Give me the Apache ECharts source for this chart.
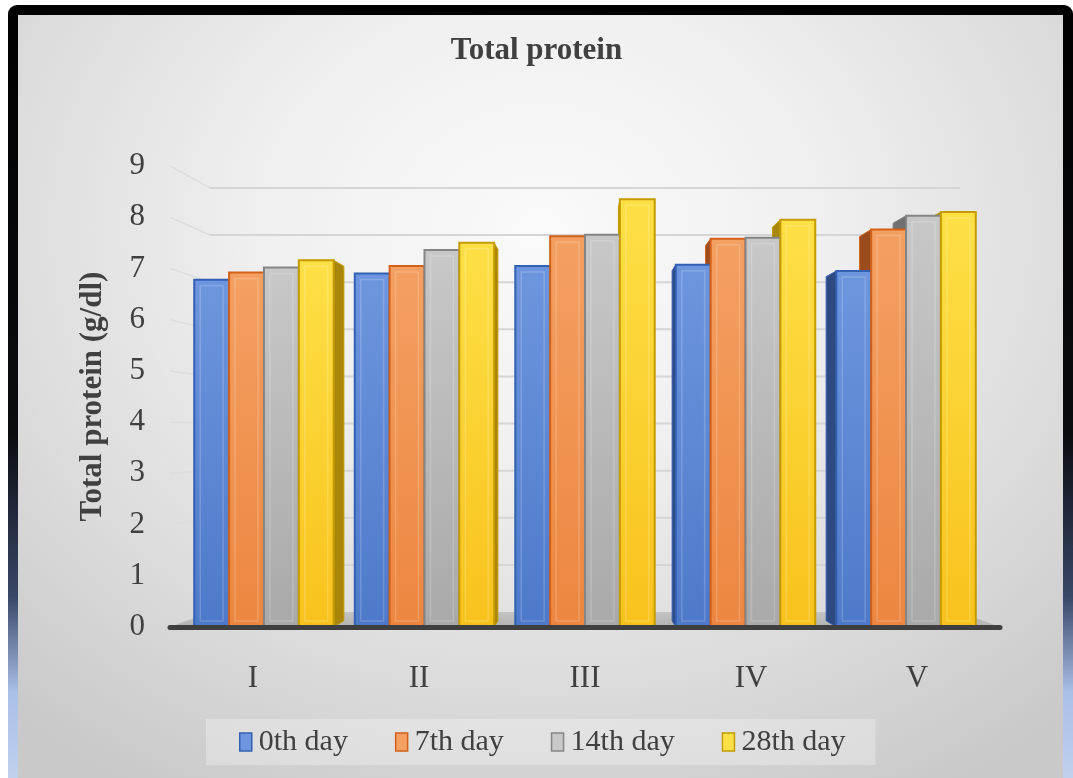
<!DOCTYPE html>
<html>
<head>
<meta charset="utf-8">
<title>Total protein</title>
<script src="https://cdn.jsdelivr.net/npm/echarts@6/dist/echarts.min.js"></script>
<style>
  html, body { margin: 0; padding: 0; background: #fff; }
  #frame {
    position: absolute; left: 8px; top: 5px; width: 1065px; height: 780px;
    border-radius: 9px 9px 0 0;
    background: linear-gradient(to bottom, #000 0%, #0b0c10 55%, #3a4868 76%, #a9bfe6 88%, #c2d2ee 100%);
  }
  #panel {
    position: absolute; left: 10px; top: 10px; right: 10px; bottom: 7px;
    background: radial-gradient(ellipse 75% 85% at 50% 28%, #fafafa 0%, #f0f0f0 35%, #dcdcdc 70%, #c9c9c9 100%);
  }
  #chart { position: absolute; left: 0; top: 0; width: 1073px; height: 778px; }
</style>
</head>
<body>
<div id="frame"><div id="panel"></div></div>
<div id="chart"></div>
<script>
// 分组 (x轴)
const categories = ['I', 'II', 'III', 'IV', 'V']
// 图例名
const seriesNames = ['0th day', '7th day', '14th day', '28th day']
// 各天的总蛋白值 (g/dl)
const day0 = [6.78, 6.90, 7.05, 7.07, 6.95]
const day7 = [6.92, 7.05, 7.63, 7.58, 7.76]
const day14 = [7.02, 7.36, 7.66, 7.60, 8.03]
const day28 = [7.16, 7.50, 8.35, 7.95, 8.10]
const yTicks = [0, 1, 2, 3, 4, 5, 6, 7, 8, 9]

const serif = '"Liberation Serif", "DejaVu Serif", serif'
const textColor = '#404040'

// 每个系列的颜色: 顶部, 底部, 边框, 侧面
const palette = [
	['#6e96de', '#4e79ca', '#3360b2', '#2f4a80'],
	['#f4a062', '#ec8640', '#d2611a', '#9a4c1c'],
	['#c8c8c8', '#a9a9a9', '#858585', '#6f6f6f'],
	['#fde046', '#f8c21c', '#c49b00', '#a8860c']
]

const dataList = [day0, day7, day14, day28]

// 3D 透视: 后墙相对前面的收缩
const WALL_INSET = 40
const WALL_DROP = 15
const WALL_SCALE = 0.92
const BAR_DEPTH = 0.42
const GROUP_SQUEEZE = 0.967

function wallPoint(cs, px, py) {
	const bottom = cs.y + cs.height
	const wl = cs.x + WALL_INSET
	const ww = cs.width - WALL_INSET * 2
	return [wl + (px - cs.x) * (ww / cs.width), bottom - WALL_DROP - (bottom - py) * WALL_SCALE]
}

function grad(c) {
	return new echarts.graphic.LinearGradient(0, 0, 0, 1, [
		{ offset: 0, color: c[0] },
		{ offset: 1, color: c[1] }
	])
}

function barRect(params, api, s) {
	const cs = params.coordSys
	const mid = cs.x + cs.width / 2
	const top = api.coord([api.value(0), api.value(1)])
	const base = api.coord([api.value(0), 0])
	const band = api.size([1, 0])[0]
	const bw = (band * 0.84) / 4
	const cx = mid + (top[0] - mid) * GROUP_SQUEEZE
	const x0 = cx - 2 * bw + s * bw
	return { x: x0, y: top[1], width: bw, height: base[1] - top[1] }
}

function toPairs(arr) {
	return arr.map((v, i) => [i, v])
}

// 背景: 地板和网格线
const floorSeries = {
	name: 'floor',
	type: 'custom',
	z: 1,
	silent: true,
	data: [[0, 0]],
	renderItem: (params, api) => {
		const cs = params.coordSys
		const b = cs.y + cs.height
		const l = wallPoint(cs, cs.x, b)
		const r = wallPoint(cs, cs.x + cs.width, b)
		return {
			type: 'polygon',
			shape: { points: [[cs.x, b], [cs.x + cs.width, b], r, l] },
			style: {
				fill: new echarts.graphic.LinearGradient(0, 0, 0, 1, [
					{ offset: 0, color: '#c4c4c4' },
					{ offset: 1, color: '#b2b2b2' }
				])
			}
		}
	}
}

const gridSeries = {
	name: 'wall grid',
	type: 'custom',
	z: 1,
	silent: true,
	data: yTicks.filter((t) => t > 0).map((t) => [0, t]),
	renderItem: (params, api) => {
		const cs = params.coordSys
		const fy = api.coord([0, api.value(1)])[1]
		const l = wallPoint(cs, cs.x, fy)
		const r = wallPoint(cs, cs.x + cs.width, fy)
		return {
			type: 'group',
			children: [
				{
					type: 'line',
					shape: { x1: cs.x, y1: fy, x2: l[0], y2: l[1] },
					style: { stroke: '#dddddd', lineWidth: 1.5 }
				},
				{
					type: 'line',
					shape: { x1: l[0], y1: l[1], x2: r[0], y2: r[1] },
					style: { stroke: '#d5d5d5', lineWidth: 2 }
				}
			]
		}
	}
}

// 柱子侧面 (在正面之下)
const sideSeries = seriesNames.map((name, s) => {
	return {
		name: name + ' side',
		type: 'custom',
		z: 2,
		silent: true,
		data: toPairs(dataList[s]),
		renderItem: (params, api) => {
			const cs = params.coordSys
			const r = barRect(params, api, s)
			const cx = r.x + r.width / 2
			const mid = cs.x + cs.width / 2
			const ex = cx < mid ? r.x + r.width : r.x
			const b = r.y + r.height
			const wt = wallPoint(cs, ex, r.y)
			const wb = wallPoint(cs, ex, b)
			const bt = [ex + (wt[0] - ex) * BAR_DEPTH, r.y + (wt[1] - r.y) * BAR_DEPTH]
			const bb = [ex + (wb[0] - ex) * BAR_DEPTH, b + (wb[1] - b) * BAR_DEPTH]
			return {
				type: 'polygon',
				shape: { points: [[ex, r.y], bt, bb, [ex, b]] },
				style: { fill: palette[s][3], stroke: palette[s][2], lineWidth: 1 }
			}
		}
	}
})

// 柱子正面
const frontSeries = seriesNames.map((name, s) => {
	return {
		name: name,
		type: 'custom',
		z: 3,
		data: toPairs(dataList[s]),
		encode: { x: 0, y: 1 },
		itemStyle: { color: palette[s][0] },
		renderItem: (params, api) => {
			const r = barRect(params, api, s)
			return {
				type: 'group',
				children: [
					{
						type: 'rect',
						shape: r,
						style: { fill: grad(palette[s]), stroke: palette[s][2], lineWidth: 2 }
					},
					{
						type: 'rect',
						shape: { x: r.x + 6, y: r.y + 6, width: r.width - 12, height: Math.max(r.height - 12, 0) },
						style: { fill: 'none', stroke: 'rgba(255,255,255,0.18)', lineWidth: 1.5 }
					}
				]
			}
		}
	}
})

const chart = echarts.init(document.getElementById('chart'), null, { renderer: 'canvas' })
chart.setOption({
	backgroundColor: 'transparent',
	animation: false,
	title: {
		text: 'Total protein',
		left: 'center',
		top: 30,
		textStyle: {
			fontFamily: serif,
			fontSize: 31,
			fontWeight: 'bold',
			color: textColor
		}
	},
	legend: {
		data: seriesNames.map((name, s) => {
			return {
				name: name,
				icon: 'rect',
				itemStyle: { color: palette[s][0], borderColor: palette[s][2], borderWidth: 1.5 }
			}
		}),
		bottom: 13,
		left: 206,
		padding: [8, 30, 8, 33],
		itemGap: 47,
		itemWidth: 12,
		itemHeight: 18,
		backgroundColor: 'rgba(255,255,255,0.28)',
		textStyle: {
			fontFamily: serif,
			fontSize: 30,
			color: textColor,
			padding: [0, 0, 0, 2]
		}
	},
	grid: {
		left: 170,
		right: 73,
		top: 166,
		bottom: 151,
		containLabel: false
	},
	xAxis: {
		type: 'category',
		data: categories,
		axisTick: { show: false },
		z: 5,
		axisLine: {
			show: true,
			lineStyle: { color: '#3f3f3f', width: 5 }
		},
		axisLabel: {
			margin: 36,
			fontFamily: serif,
			fontSize: 31,
			color: textColor
		}
	},
	yAxis: {
		type: 'value',
		min: yTicks[0],
		max: yTicks[yTicks.length - 1],
		interval: 1,
		name: 'Total protein (g/dl)',
		nameLocation: 'middle',
		nameGap: 62,
		nameTextStyle: {
			fontFamily: serif,
			fontSize: 31,
			fontWeight: 'bold',
			color: textColor
		},
		axisLine: { show: false },
		axisTick: { show: false },
		axisLabel: {
			margin: 25,
			fontFamily: serif,
			fontSize: 31,
			color: textColor
		},
		splitLine: { show: false }
	},
	series: [floorSeries, gridSeries].concat(sideSeries, frontSeries)
})
</script>
</body>
</html>
